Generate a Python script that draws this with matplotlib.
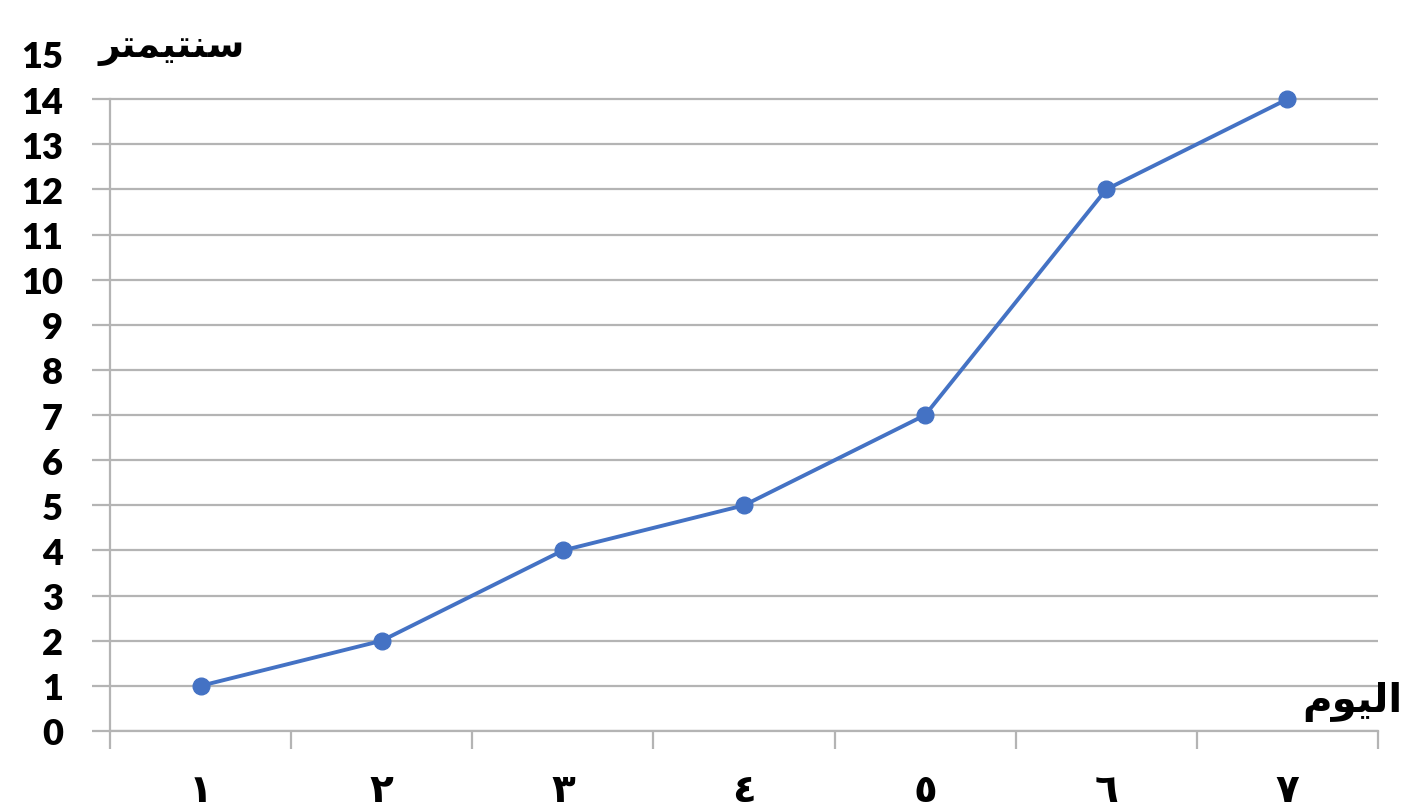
import matplotlib.pyplot as plt
from matplotlib.ticker import FixedLocator, FixedFormatter

# data
days = [1, 2, 3, 4, 5, 6, 7]
day_labels = ["\u0661", "\u0662", "\u0663", "\u0664", "\u0665", "\u0666", "\u0667"]
cm = [1, 2, 4, 5, 7, 12, 14]
y_ticks = list(range(0, 15))

# Arabic words, pre-shaped (presentation forms, visual order) since matplotlib has no shaping
y_title = "\uFEAE\uFE98\uFEE4\uFEF4\uFE98\uFEE8\uFEB3"   # سنتيمتر
x_title = "\uFEE1\uFEEE\uFEF4\uFEDF\uFE8D"               # اليوم

plt.rcParams["font.family"] = ["Lato", "DejaVu Sans"]

grid_c = "#b4b4b4"
blue = "#4472c4"

fig = plt.figure(figsize=(14.28, 8.12), dpi=100)
ax = fig.add_axes([110 / 1428, 1 - 732 / 812, 1268 / 1428, (732 - 55) / 812])

ax.plot(days, cm, color=blue, lw=2.8, marker="o", ms=12, zorder=3)

ax.set_xlim(0.5, 7.5)
ax.set_ylim(0, 15)

# y axis: gridlines + outward stubs for 0..14, bare label for 15
ax.yaxis.set_major_locator(FixedLocator(y_ticks))
ax.yaxis.set_minor_locator(FixedLocator([15]))
ax.yaxis.set_minor_formatter(FixedFormatter(["15"]))
ax.tick_params(axis="y", which="major", length=13, width=1.6, color=grid_c,
               pad=21, labelsize=26)
ax.tick_params(axis="y", which="minor", length=0, pad=34, labelsize=26)
for lab in ax.get_yticklabels(which="both"):
    lab.set_fontweight("heavy")
ax.yaxis.grid(True, color=grid_c, lw=1.6)

# x axis: category boundary ticks, labels in the middle
ax.xaxis.set_major_locator(FixedLocator([d - 0.5 for d in days] + [7.5]))
ax.xaxis.set_major_formatter(FixedFormatter([""] * 8))
ax.xaxis.set_minor_locator(FixedLocator(days))
ax.xaxis.set_minor_formatter(FixedFormatter(day_labels))
ax.tick_params(axis="x", which="major", length=13, width=1.6, color=grid_c)
ax.tick_params(axis="x", which="minor", length=0, pad=29, labelsize=28)
for lab in ax.get_xticklabels(which="minor"):
    lab.set_fontweight("bold")
    lab.set_family("DejaVu Sans")

for s in ["top", "right"]:
    ax.spines[s].set_visible(False)
ax.spines["left"].set_bounds(0, 14)
ax.spines["left"].set_color(grid_c)
ax.spines["left"].set_linewidth(1.6)
ax.spines["bottom"].set_color(grid_c)
ax.spines["bottom"].set_linewidth(1.6)
ax.set_axisbelow(True)

fig.text(172 / 1428, 1 - 48 / 812, y_title, family="DejaVu Sans", fontweight="bold",
         fontsize=27, ha="center", va="center")
fig.text(1352 / 1428, 1 - 702 / 812, x_title, family="DejaVu Sans", fontweight="bold",
         fontsize=29, ha="center", va="center")

fig.savefig("out.png", dpi=100)
